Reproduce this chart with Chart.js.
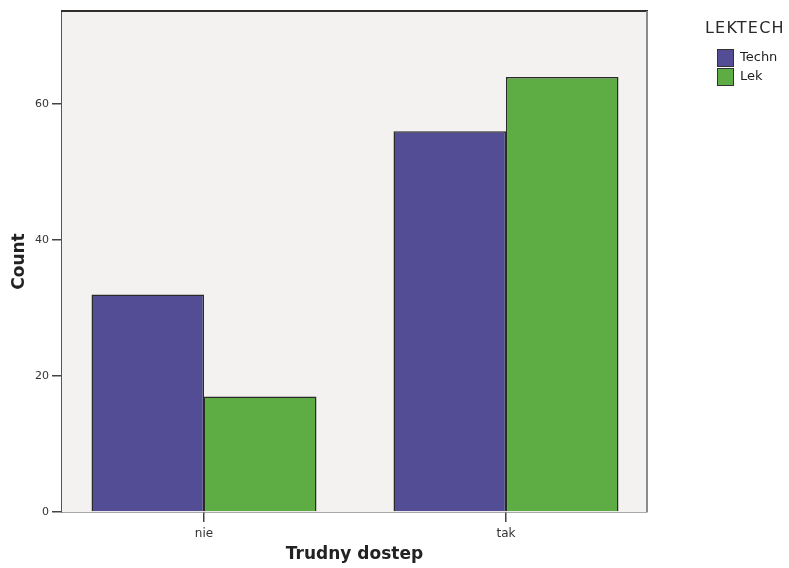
<!DOCTYPE html>
<html>
<head>
<meta charset="utf-8">
<script src="https://cdn.jsdelivr.net/npm/chart.js@4/dist/chart.umd.min.js"></script>
<style>
  html, body { margin: 0; padding: 0; background: #ffffff; }
  #wrap { width: 789px; height: 568px; position: relative; }
</style>
</head>
<body>
<div id="wrap"><canvas id="c" width="789" height="568"></canvas></div>
<script>
const categories = ['nie', 'tak'];
const seriesNames = ['Techn', 'Lek'];
const technValues = [32, 56];
const lekValues = [17, 64];
const yTickValues = [0, 20, 40, 60];
const legendTitle = 'LEKTECH';
const xTitle = 'Trudny dostep';
const yTitle = 'Count';

const colors = ['#534d96', '#5ead44'];

const toPoints = vals => vals.map((v, i) => ({ x: i + 1, y: v }));

const plotFrame = {
  id: 'plotFrame',
  beforeDatasetsDraw(chart) {
    const { ctx, chartArea: a } = chart;
    ctx.save();
    ctx.fillStyle = '#f3f2f0';
    ctx.fillRect(a.left, a.top, a.right - a.left, a.bottom - a.top);
    ctx.restore();
  },
  afterDraw(chart) {
    const { ctx, chartArea: a } = chart;
    ctx.save();
    ctx.strokeStyle = '#2e2e2e';
    ctx.lineWidth = 2;
    ctx.beginPath();
    ctx.moveTo(a.left - 1, a.top);
    ctx.lineTo(a.right + 1, a.top);
    ctx.stroke();
    ctx.strokeStyle = '#8a8a8a';
    ctx.beginPath();
    ctx.moveTo(a.right, a.top);
    ctx.lineTo(a.right, a.bottom);
    ctx.stroke();
    ctx.restore();
  }
};

const sideLegend = {
  id: 'sideLegend',
  afterDraw(chart) {
    const { ctx } = chart;
    ctx.save();
    ctx.fillStyle = '#2a2a2a';
    ctx.font = '16px "DejaVu Sans"';
    ctx.textBaseline = 'middle';
    ctx.textAlign = 'left';
    try { ctx.letterSpacing = '1.2px'; } catch (e) {}
    ctx.fillText(legendTitle, 705, 29);
    try { ctx.letterSpacing = '0px'; } catch (e) {}
    ctx.font = '13px "DejaVu Sans"';
    chart.data.datasets.forEach((ds, i) => {
      const y = 50 + i * 19;
      ctx.fillStyle = ds.backgroundColor;
      ctx.fillRect(718, y, 15, 16);
      ctx.strokeStyle = '#333333';
      ctx.lineWidth = 1;
      ctx.strokeRect(717.5, y - 0.5, 16, 17);
      ctx.fillStyle = '#1e1e1e';
      ctx.fillText(ds.label, 740, y + 8);
    });
    ctx.restore();
  }
};

new Chart(document.getElementById('c'), {
  type: 'bar',
  data: {
    datasets: [
      { label: seriesNames[0], data: toPoints(technValues), backgroundColor: colors[0], borderColor: '#2a2a2a', borderWidth: 1.5 },
      { label: seriesNames[1], data: toPoints(lekValues), backgroundColor: colors[1], borderColor: '#2a2a2a', borderWidth: 1.5 }
    ]
  },
  options: {
    responsive: false,
    animation: false,
    layout: { padding: { left: 0, top: 11, right: 142, bottom: 0 } },
    datasets: { bar: { categoryPercentage: 0.745, barPercentage: 1.0 } },
    plugins: { legend: { display: false }, tooltip: { enabled: false } },
    scales: {
      x: {
        type: 'linear',
        offset: false,
        min: 0.5298,
        max: 2.4669,
        afterBuildTicks(scale) { scale.ticks = categories.map((c, i) => ({ value: i + 1 })); },
        afterFit(scale) { scale.height = 56; },
        ticks: {
          font: { family: 'DejaVu Sans', size: 12 },
          color: '#333333',
          padding: 5,
          maxRotation: 0,
          callback: v => categories[Math.round(v) - 1]
        },
        grid: { display: true, offset: false, drawOnChartArea: false, drawTicks: true, tickLength: 10, color: '#444444', lineWidth: 1.5 },
        border: { display: true, color: '#555555', width: 1.5 },
        title: {
          display: true,
          text: xTitle,
          font: { family: 'DejaVu Sans', size: 17, weight: 'bold' },
          color: '#222222',
          padding: { top: 0, bottom: 3 }
        }
      },
      y: {
        min: 0,
        max: 73.7,
        afterBuildTicks(scale) { scale.ticks = yTickValues.map(v => ({ value: v })); },
        afterFit(scale) { scale.width = 62; },
        ticks: {
          font: { family: 'DejaVu Sans', size: 11 },
          color: '#333333',
          padding: 3
        },
        grid: { display: true, drawOnChartArea: false, drawTicks: true, tickLength: 10, color: '#444444', lineWidth: 1.5 },
        border: { display: true, color: '#555555', width: 1.5 },
        title: {
          display: true,
          text: yTitle,
          font: { family: 'DejaVu Sans', size: 17, weight: 'bold' },
          color: '#222222',
          padding: { top: 9, bottom: 0 }
        }
      }
    }
  },
  plugins: [plotFrame, sideLegend]
});
</script>
</body>
</html>
